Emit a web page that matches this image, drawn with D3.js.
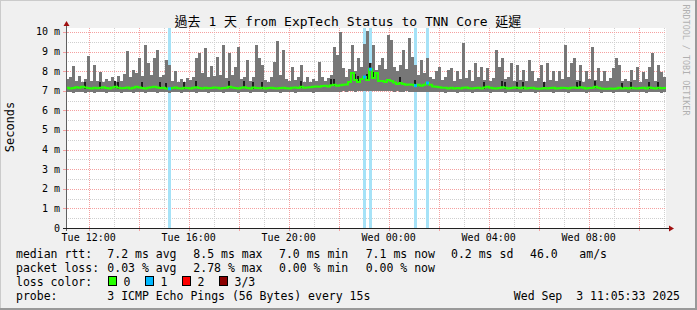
<!DOCTYPE html>
<html>
<head>
<meta charset="utf-8">
<script src="https://cdn.jsdelivr.net/npm/d3@7"></script>
<style>
  html, body { margin: 0; padding: 0; background: #f0f0f0; }
  svg { display: block; font-family: "DejaVu Sans Mono", "Noto Sans CJK TC", monospace; }
  text { white-space: pre; }
</style>
</head>
<body>
<svg id="chart" width="697" height="310"></svg>
<script>
// time window of the graph, one bin = 7.2 minutes (200 bins over 24h)
const startTime = new Date(2025, 8, 2, 11, 5, 33);
const endTime = new Date(2025, 8, 3, 11, 5, 33);
const binMinutes = 7.2;

// upper edge of the smoke, ms
const smokeHigh = [
  7.6, 7.7, 8.24, 7.5, 7.75, 7.45, 7.6, 8.79, 7.5, 8.33,
  7.5, 7.94, 7.45, 7.6, 7.5, 7.7, 7.45, 7.75, 7.5, 7.85,
  9.05, 7.7, 8.08, 7.9, 8.68, 7.75, 9.35, 8.43, 7.8, 8.68,
  9.1, 7.7, 7.8, 8.58, 8.33, 7.5, 7.99, 7.45, 7.6, 7.45,
  7.67, 7.55, 7.7, 8.68, 8.94, 7.9, 9.2, 7.7, 8.28, 7.75,
  8.74, 7.8, 9.35, 7.65, 8.94, 7.8, 8.23, 9.25, 7.6, 7.7,
  8.58, 7.5, 7.7, 9.35, 8.68, 8.33, 7.55, 7.45, 7.7, 8.48,
  9.56, 7.8, 9.1, 7.6, 7.5, 8.23, 7.55, 7.7, 8.33, 7.45,
  7.72, 7.45, 7.6, 7.5, 8.48, 7.7, 7.5, 7.65, 7.8, 9.25,
  8.84, 10.0, 8.18, 7.7, 8.1, 9.35, 8.0, 8.68, 8.2, 9.4,
  10.05, 8.4, 9.35, 8.07, 8.3, 8.68, 8.1, 9.86, 9.6, 8.2,
  7.99, 8.3, 9.1, 8.1, 9.7, 8.74, 8.33, 7.8, 8.58, 7.9,
  8.68, 7.7, 7.6, 7.99, 8.23, 7.55, 7.7, 8.07, 8.18, 7.5,
  7.99, 7.6, 9.45, 7.65, 8.07, 7.5, 8.43, 7.7, 8.23, 7.55,
  8.18, 7.5, 7.65, 9.1, 8.23, 8.68, 7.6, 7.7, 8.43, 7.5,
  8.33, 7.55, 8.07, 7.5, 8.58, 7.99, 7.5, 7.65, 8.33, 7.45,
  8.43, 7.55, 7.99, 7.5, 7.99, 7.6, 9.35, 7.7, 8.43, 8.68,
  7.55, 8.33, 7.45, 7.99, 7.6, 9.25, 7.55, 8.18, 7.5, 7.99,
  7.5, 7.65, 8.18, 8.68, 8.33, 7.5, 7.6, 7.5, 8.07, 7.55,
  8.23, 7.45, 7.94, 7.6, 8.23, 8.94, 7.5, 8.33, 7.94, 7.72
];

// lower edge of the smoke, ms
const smokeLow = [
  6.92, 6.95, 6.9, 6.93, 6.95, 6.92, 6.9, 6.94, 6.93, 6.9,
  6.94, 6.92, 6.95, 6.9, 6.93, 6.95, 6.92, 6.94, 6.9, 6.93,
  6.95, 6.92, 6.9, 6.94, 6.93, 6.95, 6.9, 6.92, 6.94, 6.93,
  6.9, 6.95, 6.92, 6.93, 6.9, 6.94, 6.95, 6.92, 6.9, 6.93,
  6.94, 6.92, 6.95, 6.9, 6.93, 6.94, 6.92, 6.9, 6.95, 6.93,
  6.92, 6.94, 6.9, 6.93, 6.95, 6.92, 6.94, 6.9, 6.93, 6.95,
  6.92, 6.9, 6.94, 6.93, 6.95, 6.92, 6.9, 6.94, 6.93, 6.92,
  6.95, 6.9, 6.93, 6.94, 6.92, 6.95, 6.9, 6.93, 6.92, 6.94,
  6.95, 6.92, 6.9, 6.94, 6.93, 6.95, 6.92, 6.94, 6.95, 6.93,
  6.96, 6.95, 6.97, 6.96, 6.98, 6.97, 6.96, 6.98, 6.97, 6.99,
  6.98, 6.97, 6.99, 6.98, 6.97, 6.98, 6.99, 6.97, 6.98, 6.96,
  6.97, 6.95, 6.96, 6.97, 6.95, 6.96, 6.94, 6.95, 6.96, 6.94,
  6.95, 6.93, 6.92, 6.94, 6.93, 6.92, 6.9, 6.93, 6.94, 6.92,
  6.9, 6.93, 6.95, 6.92, 6.94, 6.9, 6.93, 6.92, 6.95, 6.94,
  6.92, 6.9, 6.93, 6.95, 6.92, 6.94, 6.9, 6.93, 6.92, 6.95,
  6.93, 6.9, 6.94, 6.92, 6.95, 6.93, 6.9, 6.92, 6.94, 6.93,
  6.95, 6.92, 6.9, 6.93, 6.94, 6.92, 6.95, 6.9, 6.93, 6.94,
  6.92, 6.95, 6.93, 6.9, 6.94, 6.92, 6.93, 6.95, 6.9, 6.92,
  6.94, 6.93, 6.9, 6.95, 6.92, 6.94, 6.93, 6.9, 6.92, 6.95,
  6.93, 6.92, 6.94, 6.9, 6.95, 6.93, 6.92, 6.94, 6.9, 6.93
];

// median rtt, ms
const median = [
  7.15, 7.12, 7.14, 7.18, 7.15, 7.2, 7.16, 7.14, 7.12, 7.15,
  7.13, 7.15, 7.18, 7.14, 7.12, 7.16, 7.2, 7.15, 7.13, 7.14,
  7.16, 7.12, 7.15, 7.2, 7.17, 7.14, 7.12, 7.15, 7.18, 7.2,
  7.16, 7.14, 7.15, 7.12, 7.1, 7.14, 7.16, 7.13, 7.12, 7.15,
  7.14, 7.12, 7.15, 7.18, 7.14, 7.12, 7.15, 7.13, 7.14, 7.16,
  7.15, 7.12, 7.14, 7.15, 7.2, 7.16, 7.14, 7.12, 7.15, 7.18,
  7.14, 7.12, 7.16, 7.14, 7.13, 7.15, 7.12, 7.14, 7.15, 7.13,
  7.12, 7.14, 7.15, 7.13, 7.12, 7.15, 7.16, 7.14, 7.2, 7.15,
  7.16, 7.18, 7.2, 7.22, 7.2, 7.24, 7.26, 7.22, 7.28, 7.3,
  7.25, 7.28, 7.3, 7.32, 7.45, 7.9, 7.55, 7.45, 7.6, 7.7,
  7.55, 8.1, 7.65, 7.9, 7.5, 7.5, 7.45, 7.55, 7.5, 7.42,
  7.35, 7.4, 7.35, 7.3, 7.32, 7.3, 7.26, 7.3, 7.25, 7.3,
  7.4, 7.3, 7.22, 7.2, 7.18, 7.15, 7.15, 7.12, 7.15, 7.12,
  7.14, 7.12, 7.15, 7.16, 7.13, 7.12, 7.14, 7.15, 7.12, 7.16,
  7.2, 7.15, 7.13, 7.12, 7.14, 7.18, 7.15, 7.12, 7.14, 7.16,
  7.15, 7.13, 7.16, 7.12, 7.14, 7.15, 7.12, 7.1, 7.12, 7.14,
  7.12, 7.14, 7.15, 7.12, 7.13, 7.15, 7.14, 7.12, 7.15, 7.16,
  7.14, 7.18, 7.15, 7.12, 7.14, 7.15, 7.2, 7.15, 7.12, 7.1,
  7.1, 7.12, 7.1, 7.12, 7.15, 7.12, 7.14, 7.12, 7.15, 7.13,
  7.12, 7.14, 7.15, 7.12, 7.16, 7.14, 7.12, 7.15, 7.13, 7.14
];

// bins where the dense (dark) part of the smoke shows near the median
const darkBins = [6, 11, 16, 17, 25, 31, 33, 39, 43, 54, 59, 62, 65, 78, 88, 89, 96, 97,
  100, 101, 102, 111, 116, 139, 145, 146, 150, 152, 159, 170, 171, 176, 185, 188, 194, 197];

// bins with 1 of 3 pings lost
const lossBins = [34, 99, 101, 116, 120];

const yTicks = [0, 1, 2, 3, 4, 5, 6, 7, 8, 9, 10];
const lossColors = [
  { label: '0', color: '#26ff00' },
  { label: '1', color: '#00b8ff' },
  { label: '2', color: '#ff0000' },
  { label: '3/3', color: '#8b0000' }
];

const titleText = '過去 1 天 from ExpTech Status to TNN Core 延遲';
const rttLegend = ['median rtt:', '7.2 ms avg', '8.5 ms max', '7.0 ms min', '7.1 ms now', '0.2 ms sd', '46.0', 'am/s'];
const lossLegend = ['packet loss:', '0.03 % avg', '2.78 % max', '0.00 % min', '0.00 % now'];
const probeLegend = ['probe:', '3 ICMP Echo Pings (56 Bytes) every 15s'];
const stampText = 'Wed Sep  3 11:05:33 2025';

const svg = d3.select('#chart');
const W = 697, H = 310;
const plotL = 66, plotR = 666, plotT = 28, plotB = 228;

const x = d3.scaleTime().domain([startTime, endTime]).range([plotL, plotR]);
const y = d3.scaleLinear().domain([0, 10.2]).range([plotB, plotT]);
const binTime = i => new Date(startTime.getTime() + i * binMinutes * 60000);

// background + 3d frame
svg.append('rect').attr('width', W).attr('height', H).attr('fill', '#f0f0f0');
svg.append('rect').attr('x', 0).attr('y', 0).attr('width', W).attr('height', 1).attr('fill', '#cbcbcb');
svg.append('rect').attr('x', 0).attr('y', 0).attr('width', 1).attr('height', H).attr('fill', '#cbcbcb');
svg.append('rect').attr('x', 0).attr('y', H - 2).attr('width', W).attr('height', 2).attr('fill', '#999');
svg.append('rect').attr('x', W - 2).attr('y', 0).attr('width', 2).attr('height', H).attr('fill', '#999');

svg.append('rect')
  .attr('x', plotL).attr('y', plotT)
  .attr('width', plotR - plotL).attr('height', plotB - plotT)
  .attr('fill', '#fff');

// grid
const grid = svg.append('g').attr('shape-rendering', 'crispEdges');
const hours = d3.timeHour.range(startTime, endTime);
hours.forEach(h => {
  const major = h.getHours() % 2 === 0;
  const px = Math.round(x(h)) + 0.5;
  grid.append('line')
    .attr('x1', px).attr('x2', px).attr('y1', plotT).attr('y2', plotB)
    .attr('stroke', major ? '#f5a0a0' : '#cfcfcf')
    .attr('stroke-dasharray', '1,1');
  if (major) {
    grid.append('line')
      .attr('x1', px).attr('x2', px).attr('y1', plotB - 2).attr('y2', plotB + 3)
      .attr('stroke', '#f5a0a0');
  }
});
d3.range(1, 21).forEach(k => {
  const v = k / 2;
  const major = k % 2 === 0;
  const py = Math.round(y(v)) + 0.5;
  grid.append('line')
    .attr('x1', plotL).attr('x2', plotR).attr('y1', py).attr('y2', py)
    .attr('stroke', major ? '#f5a0a0' : '#cfcfcf')
    .attr('stroke-dasharray', '1,1');
  if (major) {
    grid.append('line')
      .attr('x1', plotL - 3).attr('x2', plotL + 2).attr('y1', py).attr('y2', py)
      .attr('stroke', '#f5a0a0');
  }
});

// loss background bars
const data = svg.append('g').attr('shape-rendering', 'crispEdges');
data.selectAll('rect.loss')
  .data(lossBins)
  .enter()
  .append('rect')
  .attr('class', 'loss')
  .attr('x', d => x(binTime(d)))
  .attr('width', d => x(binTime(d + 1)) - x(binTime(d)))
  .attr('y', plotT)
  .attr('height', plotB - plotT)
  .attr('fill', '#a6e2f7');

// smoke
data.selectAll('rect.smoke')
  .data(smokeHigh)
  .enter()
  .append('rect')
  .attr('class', 'smoke')
  .attr('x', (d, i) => x(binTime(i)))
  .attr('width', (d, i) => x(binTime(i + 1)) - x(binTime(i)))
  .attr('y', d => y(Math.min(d, 10.2)))
  .attr('height', (d, i) => y(smokeLow[i]) - y(Math.min(d, 10.2)))
  .attr('fill', '#777');

data.selectAll('rect.dark')
  .data(darkBins)
  .enter()
  .append('rect')
  .attr('class', 'dark')
  .attr('x', d => x(binTime(d)))
  .attr('width', d => x(binTime(d + 1)) - x(binTime(d)) - 1)
  .attr('y', d => y(median[d] + 0.3))
  .attr('height', d => y(median[d] - 0.05) - y(median[d] + 0.3))
  .attr('fill', '#1e1e1e');

// median line
const medPts = median.map((v, i) => [x(binTime(i)), y(v)]);
medPts.push([x(binTime(median.length)), y(median[median.length - 1])]);
svg.append('path')
  .attr('d', d3.line().curve(d3.curveStepAfter)(medPts))
  .attr('fill', 'none')
  .attr('stroke', '#26ff00')
  .attr('stroke-width', 2);

svg.selectAll('rect.lossmed')
  .data(lossBins)
  .enter()
  .append('rect')
  .attr('class', 'lossmed')
  .attr('x', d => x(binTime(d)))
  .attr('width', d => x(binTime(d + 1)) - x(binTime(d)))
  .attr('y', d => y(median[d]) - 1.5)
  .attr('height', 3)
  .attr('fill', '#00b8ff');

// axes
svg.append('line')
  .attr('x1', plotL + 0.5).attr('x2', plotL + 0.5).attr('y1', plotB + 3).attr('y2', plotT - 3)
  .attr('stroke', '#606060').attr('shape-rendering', 'crispEdges');
svg.append('line')
  .attr('x1', plotL - 3).attr('x2', plotR + 3).attr('y1', plotB + 0.5).attr('y2', plotB + 0.5)
  .attr('stroke', '#222').attr('shape-rendering', 'crispEdges');
svg.append('path')
  .attr('d', `M${plotL - 2.5},${plotT - 2}L${plotL + 3.5},${plotT - 2}L${plotL + 0.5},${plotT - 7}Z`)
  .attr('fill', '#a01010');
svg.append('path')
  .attr('d', `M${plotR + 3},${plotB - 2.5}L${plotR + 3},${plotB + 3.5}L${plotR + 8},${plotB + 0.5}Z`)
  .attr('fill', '#a01010');

// y labels
svg.append('g').selectAll('text')
  .data(yTicks)
  .enter()
  .append('text')
  .attr('x', 60)
  .attr('y', d => y(d) + 3.5)
  .attr('text-anchor', 'end')
  .attr('font-size', '10px')
  .attr('fill', '#000')
  .text(d => d === 0 ? '0' : `${d} m`);

// x labels
const fmt = d3.timeFormat('%a %H:%M');
const labelHours = hours.filter(h => h.getHours() % 4 === 0);
svg.append('g').selectAll('text')
  .data(labelHours)
  .enter()
  .append('text')
  .attr('x', d => x(d))
  .attr('y', 241)
  .attr('text-anchor', 'middle')
  .attr('font-size', '10px')
  .attr('fill', '#000')
  .text(d => fmt(d));

// title
svg.append('text')
  .attr('x', 348).attr('y', 26)
  .attr('text-anchor', 'middle')
  .attr('font-size', '13px')
  .attr('fill', '#000')
  .text(titleText);

// vertical unit label
svg.append('text')
  .attr('transform', 'translate(14,127) rotate(-90)')
  .attr('text-anchor', 'middle')
  .attr('font-size', '12px')
  .attr('fill', '#000')
  .text('Seconds');

// watermark
svg.append('text')
  .attr('transform', 'translate(683,60) rotate(90)')
  .attr('text-anchor', 'middle')
  .attr('font-size', '8.4px')
  .attr('fill', '#b0b0b0')
  .text('RRDTOOL / TOBI OETIKER');

// legend
const cols = [16, 107.3, 193.3, 279, 365.7, 451, 530, 579.3];
const legend = svg.append('g').attr('font-size', '11.5px').attr('fill', '#000');
rttLegend.forEach((t, i) => legend.append('text').attr('x', cols[i]).attr('y', 258).text(t));
lossLegend.forEach((t, i) => legend.append('text').attr('x', cols[i]).attr('y', 272).text(t));
legend.append('text').attr('x', 16).attr('y', 286).text('loss color:');
const swX = [108.5, 145.5, 182.5, 219.5];
lossColors.forEach((c, i) => {
  legend.append('rect')
    .attr('x', swX[i]).attr('y', 276.5).attr('width', 8).attr('height', 9)
    .attr('fill', c.color).attr('stroke', '#000').attr('stroke-width', 1);
  legend.append('text').attr('x', swX[i] + 15).attr('y', 286).text(c.label);
});
probeLegend.forEach((t, i) => legend.append('text').attr('x', cols[i]).attr('y', 300).text(t));
legend.append('text').attr('x', 680).attr('y', 300).attr('text-anchor', 'end').text(stampText);
</script>
</body>
</html>
